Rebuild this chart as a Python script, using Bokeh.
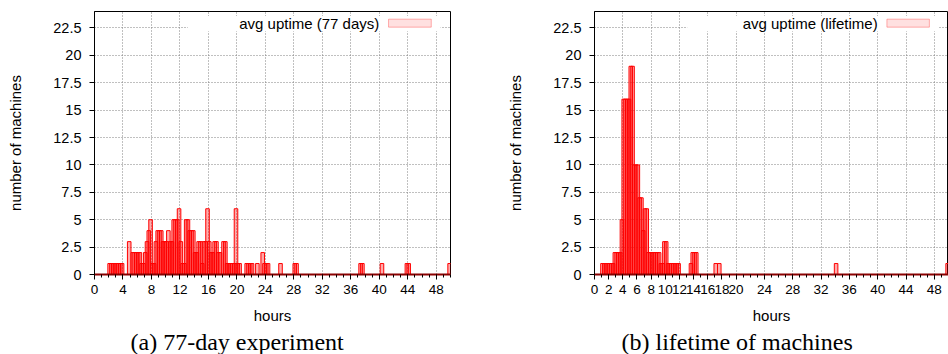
from bokeh.plotting import figure
from bokeh.layouts import row
from bokeh.models import FixedTicker, Label, BoxAnnotation, ColumnDataSource, Title
from bokeh.embed import file_html
from bokeh.resources import INLINE

# ---------------- data ----------------
# (a) 77-day experiment: bin position (hours) and number of machines
exp_hours = [2.0, 2.25, 2.5, 2.75, 3.0, 3.25, 3.5, 3.75,
             4.75, 5.25, 5.5, 5.75, 6.0, 6.25, 6.5, 6.75,
             7.0, 7.25, 7.5, 7.75, 8.0, 8.25, 8.5, 8.75, 9.0, 9.25, 9.5, 9.75,
             10.0, 10.25, 10.5, 10.75, 11.0, 11.25, 11.5, 11.75, 12.0, 12.25, 12.5, 12.75,
             13.0, 13.25, 13.5, 13.75, 14.0, 14.25, 14.5, 14.75, 15.0, 15.25, 15.5, 15.75,
             16.0, 16.25, 16.5, 16.75, 17.0, 17.25, 17.5, 18.0, 18.25, 18.5, 18.75,
             19.0, 19.25, 19.5, 19.75, 20.0, 20.25, 21.25, 21.5, 21.75, 22.0, 22.75,
             23.5, 23.75, 24.0, 24.25, 26.0, 28.0, 28.25, 37.25, 37.5, 40.25,
             43.75, 44.0, 49.75]
exp_counts = [1, 1, 1, 1, 1, 1, 1, 1,
              3, 2, 2, 2, 2, 2, 1, 1,
              2, 3, 4, 5, 1, 1, 3, 4, 4, 4, 3, 3,
              3, 4, 3, 3, 5, 5, 5, 6, 3, 1, 1, 5,
              5, 4, 4, 4, 2, 2, 3, 3, 1, 3, 3, 6,
              3, 2, 2, 3, 3, 2, 2, 3, 3, 1, 1,
              1, 1, 1, 6, 1, 1, 1, 1, 1, 1, 1,
              2, 1, 1, 1, 1, 1, 1, 1, 1, 1,
              1, 1, 1]

# (b) lifetime of machines
life_hours = [1.0, 1.25, 1.5, 1.75, 2.0, 2.25, 2.5, 2.75, 3.0, 3.25, 3.5, 3.75,
              4.0, 4.25, 4.5, 4.75, 5.0, 5.25, 5.5, 5.75, 6.0, 6.25, 6.5, 6.75,
              7.0, 7.25, 7.5, 7.75, 8.0, 8.25, 8.5, 8.75, 9.0, 9.25, 9.5, 9.75,
              10.0, 10.25, 10.5, 10.75, 11.0, 11.25, 11.5, 11.75,
              13.5, 13.75, 14.0, 14.25, 17.0, 17.5, 34.0, 49.75]
life_counts = [1, 1, 1, 1, 1, 1, 1, 2, 2, 2, 2, 5,
               16, 16, 16, 16, 19, 19, 10, 10, 10, 7, 7, 4,
               6, 6, 2, 2, 2, 2, 2, 2, 2, 1, 1, 3,
               3, 1, 1, 1, 1, 1, 1, 1,
               1, 2, 2, 2, 1, 1, 1, 1]

y_ticks = [0, 2.5, 5, 7.5, 10, 12.5, 15, 17.5, 20, 22.5]
y_tick_labels = ["0", "2.5", "5", "7.5", "10", "12.5", "15", "17.5", "20", "22.5"]
exp_x_ticks = [0, 4, 8, 12, 16, 20, 24, 28, 32, 36, 40, 44, 48]
life_x_ticks = [0, 2, 4, 6, 8, 10, 12, 14, 16, 18, 20, 24, 28, 32, 36, 40, 44, 48]
grid_x_ticks = [0, 4, 8, 12, 16, 20, 24, 28, 32, 36, 40, 44, 48]
minor_x_ticks = [0, 1, 2, 3, 4, 5, 6, 7, 8, 9, 10, 11, 12, 13, 14, 15, 16, 17, 18, 19,
                 20, 21, 22, 23, 24, 25, 26, 27, 28, 29, 30, 31, 32, 33, 34, 35, 36,
                 37, 38, 39, 40, 41, 42, 43, 44, 45, 46, 47, 48, 49, 50]

BOX_WIDTH = 0.5      # drawn box width in hours (boxes overlap, gnuplot style)
SANS = "Liberation Sans"
SERIF = "Liberation Serif"
FS = "15px"
YTICK_FS = "14.5px"
XTICK_FS = "13.5px"


def panel(hours, counts, xticks, legend_text, caption, cap_offset, width, bl, br):
    p = figure(width=width, height=354, x_range=(0, 50), y_range=(0, 24),
               output_backend="svg", toolbar_location=None,
               min_border_left=bl, min_border_right=br,
               min_border_top=11, min_border_bottom=0)
    src = ColumnDataSource(dict(left=[h - BOX_WIDTH / 4 for h in hours],
                                right=[h + 3 * BOX_WIDTH / 4 for h in hours],
                                top=counts))
    p.quad(left="left", right="right", bottom=0, top="top", source=src,
           fill_color="#ff0000", fill_alpha=0.33,
           line_color="#ff0000", line_width=1)

    # legend (gnuplot style: text then sample, top right)
    p.add_layout(BoxAnnotation(left=13.1, right=48.6, bottom=22.2, top=23.6,
                               fill_color="white", fill_alpha=1.0,
                               line_color=None, level="underlay"))
    p.add_layout(Label(x=40.0, y=22.9, text=legend_text, text_align="right",
                       text_baseline="middle", text_font=SANS,
                       text_font_size=FS, text_color="black"))
    p.add_layout(BoxAnnotation(left=41.3, right=47.3, bottom=22.57, top=23.3,
                               fill_color="#ff0000", fill_alpha=0.12,
                               line_color="#ff0000", line_width=1))

    p.outline_line_color = "black"
    p.outline_line_width = 1
    p.background_fill_color = "white"
    p.border_fill_color = "white"

    p.xaxis.ticker = FixedTicker(ticks=xticks, minor_ticks=minor_x_ticks)
    p.yaxis.ticker = FixedTicker(ticks=y_ticks, minor_ticks=[])
    p.yaxis.major_label_overrides = {t: l for t, l in zip(y_ticks, y_tick_labels)}
    p.xgrid.ticker = FixedTicker(ticks=grid_x_ticks)
    p.ygrid.ticker = FixedTicker(ticks=y_ticks)
    for g in (p.xgrid, p.ygrid):
        g.grid_line_color = "#808080"
        g.grid_line_dash = "1 2"
        g.grid_line_width = 1
        g.level = "underlay"

    for ax in (p.xaxis, p.yaxis):
        ax.major_tick_in = 0
        ax.major_tick_out = 5
        ax.minor_tick_in = 0
        ax.minor_tick_out = 3
        ax.major_tick_line_color = "black"
        ax.minor_tick_line_color = "black"
        ax.major_label_text_font = SANS
        ax.major_label_text_color = "black"
        ax.axis_label_text_font = SANS
        ax.axis_label_text_font_size = FS
        ax.axis_label_text_font_style = "normal"
        ax.axis_label_text_color = "black"
    p.xaxis.major_label_text_font_size = XTICK_FS
    p.yaxis.major_label_text_font_size = YTICK_FS
    p.xaxis.axis_line_color = "#8b0000"
    p.xaxis.axis_line_width = 2
    p.yaxis.axis_line_color = "black"
    p.xaxis.major_label_standoff = 5
    p.yaxis.major_label_standoff = 8
    p.xaxis.axis_label = "hours"
    p.yaxis.axis_label = "number of machines"
    p.xaxis.axis_label_standoff = 10
    p.yaxis.axis_label_standoff = 26

    # sub-figure caption below the axis
    p.add_layout(Title(text=caption, align="left", offset=cap_offset,
                       text_font=SERIF, text_font_size="24px",
                       text_font_style="normal", text_color="black",
                       standoff=0), "below")
    return p


left = panel(exp_hours, exp_counts, exp_x_ticks, "avg uptime (77 days)",
             "(a)  77-day experiment", 36, 474, 94, 24)
right = panel(life_hours, life_counts, life_x_ticks, "avg uptime (lifetime)",
              "(b)  lifetime of machines", 27, 474, 120, 0)

layout = row(left, right)
open("out.html", "w").write(file_html(layout, INLINE))
